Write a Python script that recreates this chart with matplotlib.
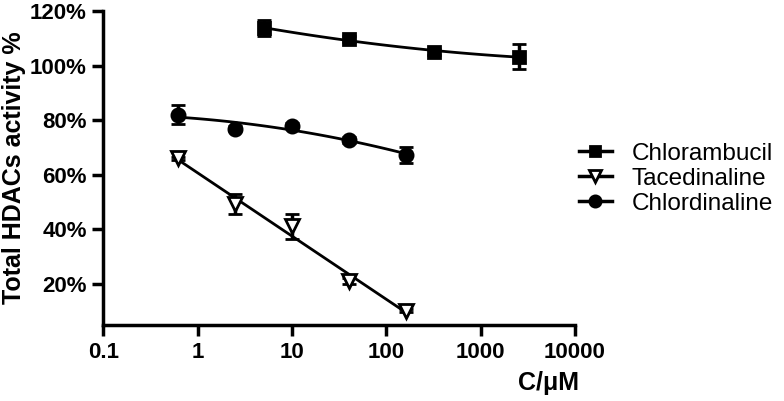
import numpy as np
import matplotlib.pyplot as plt
from matplotlib.lines import Line2D

plt.rcParams['font.family'] = ['Liberation Sans', 'DejaVu Sans']

# concentrations (uM) and activity (%)
chlorambucil_c = [5, 40, 320, 2560]
chlorambucil_y = [113.7, 109.8, 104.9, 103.3]
chlorambucil_err = [3.0, 1.0, 1.0, 4.6]

tacedinaline_c = [0.625, 2.5, 10, 40, 160]
tacedinaline_y = [66.0, 49.2, 41.1, 21.2, 10.3]
tacedinaline_err = [0.5, 3.7, 4.7, 1.0, 0.5]

chlordinaline_c = [0.625, 2.5, 10, 40, 160]
chlordinaline_y = [82.0, 76.9, 78.0, 72.7, 67.4]
chlordinaline_err = [3.5, 1.0, 1.0, 1.0, 2.9]

series = [
    ("Chlorambucil", chlorambucil_c, chlorambucil_y, chlorambucil_err, 's', 'black', 9, 2),
    ("Tacedinaline", tacedinaline_c, tacedinaline_y, tacedinaline_err, 'v', 'white', 10, 1),
    ("Chlordinaline", chlordinaline_c, chlordinaline_y, chlordinaline_err, 'o', 'black', 9.5, 2),
]

fig = plt.figure(figsize=(7.84, 4.01), dpi=100)
ax = fig.add_axes([0.1318, 0.1895, 0.6016, 0.7831])

handles = []
for name, c, y, err, mk, fc, ms, deg in series:
    lx = np.log10(c)
    coef = np.polyfit(lx, y, deg)
    xs = np.linspace(lx.min(), lx.max(), 100)
    ax.plot(10 ** xs, np.polyval(coef, xs), color='black', lw=2, zorder=2)
    ax.errorbar(c, y, yerr=err, fmt=mk, ms=ms, mfc=fc, mec='black', mew=2,
                ecolor='black', elinewidth=2.5, capsize=5, capthick=3, zorder=3)
    handles.append(Line2D([], [], color='black', lw=2.5, marker=mk, ms=ms * 0.85,
                          mfc=fc, mec='black', mew=2))

ax.set_xscale('log')
ax.set_xlim(0.1, 10000)
ax.set_ylim(5, 120)
ax.set_xticks([0.1, 1, 10, 100, 1000, 10000])
ax.set_xticklabels(['0.1', '1', '10', '100', '1000', '10000'])
ax.minorticks_off()
ax.set_yticks([20, 40, 60, 80, 100, 120])
ax.set_yticklabels([f'{v}%' for v in [20, 40, 60, 80, 100, 120]])

for s in ['top', 'right']:
    ax.spines[s].set_visible(False)
for s in ['left', 'bottom']:
    ax.spines[s].set_linewidth(2.5)
ax.tick_params(width=2.5, length=8, labelsize=16, pad=4)
for lab in ax.get_xticklabels() + ax.get_yticklabels():
    lab.set_fontweight('bold')

ax.set_ylabel('Total HDACs activity %', fontsize=18, fontweight='bold')
ax.yaxis.set_label_coords(-0.164, 0.5)
ax.set_xlabel('C/\u03bcM', fontsize=18, fontweight='bold')
ax.xaxis.set_label_coords(0.943, -0.146)

fig.legend(handles, [s[0] for s in series], loc='upper left',
           bbox_to_anchor=(0.71, 0.698), frameon=False, fontsize=17.5,
           handlelength=1.36, handletextpad=0.82, labelspacing=0.12)

fig.savefig('out.png', dpi=100)
